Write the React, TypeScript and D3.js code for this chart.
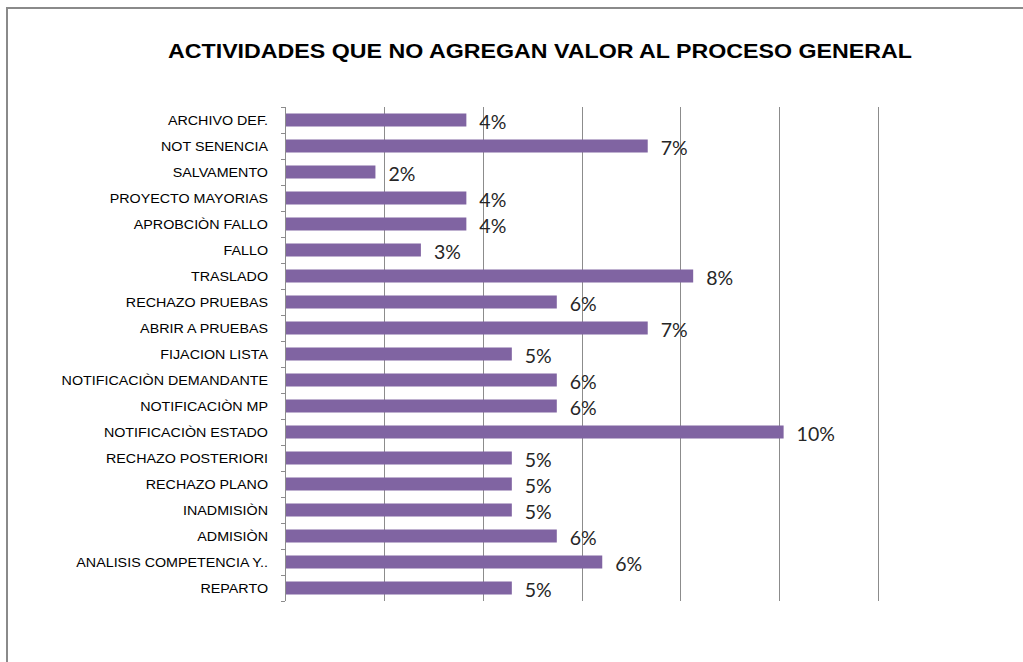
import React from "react";
import * as d3 from "d3";

const categories: string[] = [
  "ARCHIVO DEF.",
  "NOT SENENCIA",
  "SALVAMENTO",
  "PROYECTO MAYORIAS",
  "APROBCIÒN FALLO",
  "FALLO",
  "TRASLADO",
  "RECHAZO PRUEBAS",
  "ABRIR A PRUEBAS",
  "FIJACION LISTA",
  "NOTIFICACIÒN DEMANDANTE",
  "NOTIFICACIÒN MP",
  "NOTIFICACIÒN ESTADO",
  "RECHAZO POSTERIORI",
  "RECHAZO PLANO",
  "INADMISIÒN",
  "ADMISIÒN",
  "ANALISIS COMPETENCIA Y..",
  "REPARTO",
];

const values: number[] = [
  3.67, 7.34, 1.83, 3.67, 3.67, 2.75, 8.26, 5.5, 7.34, 4.59, 5.5, 5.5, 10.09,
  4.59, 4.59, 4.59, 5.5, 6.42, 4.59,
];

const xTicks: number[] = [0, 2, 4, 6, 8, 10, 12];

const TITLE = "ACTIVIDADES QUE NO AGREGAN VALOR AL PROCESO GENERAL";

export default function App() {
  const W = 1023;
  const H = 662;
  const left = 285;
  const right = 878;
  const top = 107;
  const bottom = 601;

  const x = d3.scaleLinear().domain([0, 12]).range([left, right]);
  const y = d3
    .scaleBand<string>()
    .domain(categories)
    .range([top, bottom])
    .paddingInner(0.5)
    .paddingOuter(0.25);
  const step = y.step();

  const gridColor = "#8c8c8c";
  const barColor = "#8064A2";

  return (
    <svg
      width={W}
      height={H}
      style={{ position: "absolute", left: 0, top: 0, background: "#fff" }}
    >
      <rect x={0} y={0} width={W} height={H} fill="#fff" />
      {/* frame */}
      <line x1={6} y1={8} x2={W} y2={8} stroke="#8a8a8a" strokeWidth={2} />
      <line x1={7} y1={8} x2={7} y2={H} stroke="#8a8a8a" strokeWidth={2} />

      <text
        x={540}
        y={58}
        textAnchor="middle"
        fontFamily="Liberation Sans, Arial, sans-serif"
        fontWeight="bold"
        fontSize={20}
        textLength={744}
        lengthAdjust="spacingAndGlyphs"
        fill="#000"
      >
        {TITLE}
      </text>

      {/* gridlines */}
      {xTicks.slice(1).map((t) => (
        <line
          key={t}
          x1={Math.round(x(t)) + 0.5}
          x2={Math.round(x(t)) + 0.5}
          y1={top}
          y2={bottom}
          stroke={gridColor}
          strokeWidth={1}
        />
      ))}

      {/* axis */}
      <line
        x1={left + 0.5}
        x2={left + 0.5}
        y1={top}
        y2={bottom}
        stroke={gridColor}
        strokeWidth={1}
      />
      {d3.range(categories.length + 1).map((i) => {
        const yy = Math.round(top + i * step) + 0.5;
        return (
          <line
            key={i}
            x1={left - 4}
            x2={left}
            y1={yy}
            y2={yy}
            stroke={gridColor}
            strokeWidth={1}
          />
        );
      })}

      {/* bars */}
      {categories.map((c, i) => (
        <rect
          key={c}
          x={x(0) + 1}
          y={y(c)!}
          width={x(values[i]) - x(0) - 1}
          height={y.bandwidth()}
          fill={barColor}
        />
      ))}

      {/* category labels */}
      {categories.map((c) => (
        <text
          key={c}
          transform={`translate(268,${y(c)! + y.bandwidth() / 2}) scale(1.1,1)`}
          dy="0.35em"
          textAnchor="end"
          fontFamily="Liberation Sans, Arial, sans-serif"
          fontSize={13}
          fill="#000"
        >
          {c}
        </text>
      ))}

      {/* value labels */}
      {categories.map((c, i) => (
        <text
          key={c}
          x={x(values[i]) + 13}
          y={y(c)! + y.bandwidth() / 2 + 2}
          dy="0.35em"
          fontFamily="Lato, 'Open Sans', sans-serif"
          fontSize={19.5}
          fill="#262626"
        >
          {Math.round(values[i]) + "%"}
        </text>
      ))}
    </svg>
  );
}
